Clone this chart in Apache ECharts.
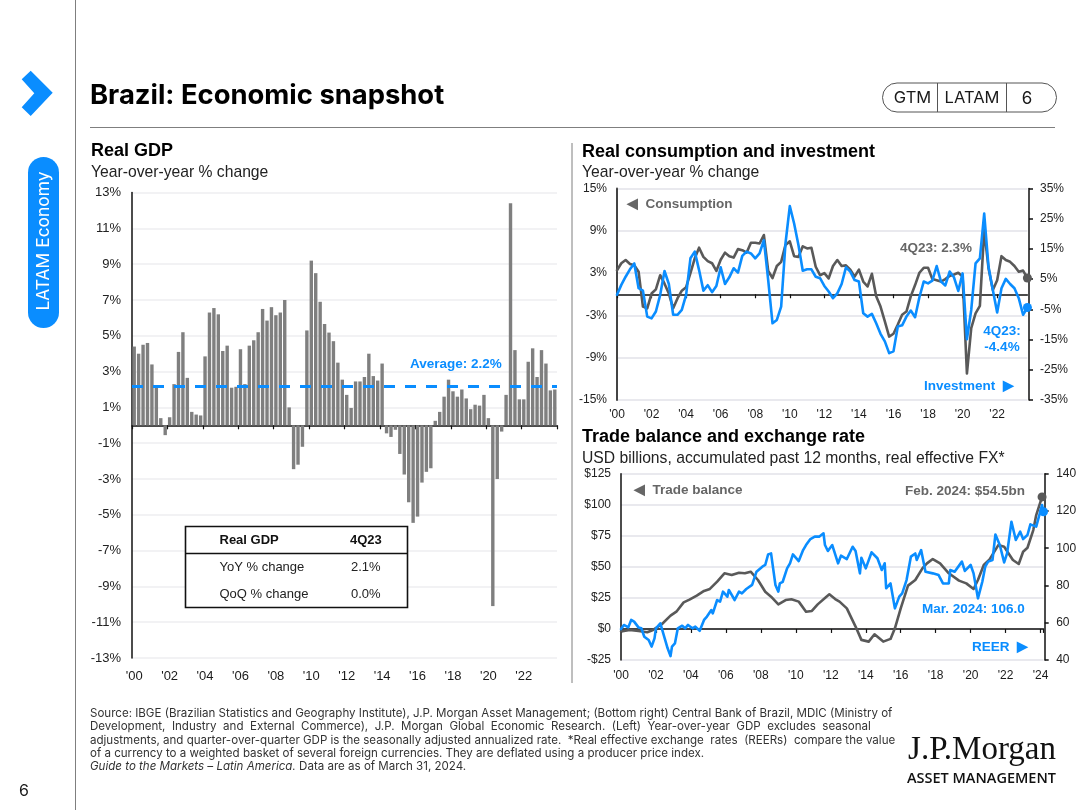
<!DOCTYPE html>
<html><head><meta charset="utf-8">
<style>html,body{margin:0;padding:0;background:#fff}#c{width:1080px;height:810px}</style>
<script src="https://cdn.jsdelivr.net/npm/echarts@6/dist/echarts.min.js"></script>
</head><body><div id="c"></div>
<script>
// ---- Data ----
const gdpYoY = [4.4,4.0,4.5,4.6,3.4,2.2,0.4,-0.55,0.45,2.3,4.1,5.2,2.65,0.75,0.6,0.55,3.85,6.3,6.55,6.2,4.15,4.45,2.1,2.15,4.25,2.3,4.45,4.75,5.2,6.5,5.85,6.6,6.15,6.3,7.0,1.0,-2.45,-2.2,-1.2,5.3,9.2,8.5,6.9,5.66,5.18,4.7,3.5,2.55,1.7,0.97,2.45,2.45,2.7,4.0,2.75,2.5,3.45,-0.45,-0.65,-0.25,-1.6,-2.75,-4.3,-5.45,-5.1,-3.2,-2.6,-2.4,0.25,0.75,1.6,2.55,1.9,1.6,2.0,1.5,0.9,1.15,1.1,1.7,0.4,-10.1,-3.0,-0.35,1.7,12.4,4.2,1.45,1.45,3.55,4.3,2.7,4.2,3.45,1.95,2.0];
const gdpAverage = 2.2;
const consumption = [3.4,4.4,4.85,4.3,4.1,3.2,-1.75,-2.0,0.1,0.7,2.7,1.5,0.1,-2.0,-0.6,0.5,1.0,3.0,5.1,6.6,5.3,4.7,4.4,3.3,4.9,5.9,5.4,5.2,6.4,6.25,5.9,7.3,7.3,7.2,8.4,3.3,2.3,4.0,4.6,7.0,7.5,5.4,5.3,6.8,6.5,6.6,3.9,2.7,3.0,2.25,4.0,4.85,4.0,4.1,3.5,2.5,3.5,1.8,1.1,2.9,-0.3,-1.75,-3.85,-6.0,-5.6,-4.3,-2.9,-2.45,-0.3,1.3,3.05,3.75,3.75,2.15,2.0,1.8,2.15,2.6,2.8,3.05,2.5,-11.25,-4.8,-2.7,-1.65,9.1,3.7,0.6,2.0,5.4,4.85,4.6,4.0,3.2,3.35,2.3];
const investment = [-0.2,3.1,5.8,8.25,10.2,2.0,1.2,-7.4,-8.0,-5.7,-0.2,7.7,3.4,-6.8,-6.8,-5.2,-0.2,11.9,14.1,8.0,1.2,3.0,0.7,2.75,8.9,3.4,5.6,8.6,7.15,12.7,14.1,13.5,11.9,13.5,17.9,4.7,-9.6,-8.5,-4.1,16.8,29.2,23.4,16.3,7.8,8.25,8.25,5.8,5.3,2.75,0.9,-1.3,0.3,3.4,8.9,7.5,4.7,4.2,-6.3,-7.4,-6.5,-9.6,-13.1,-15.6,-19.5,-18.9,-10.7,-10.3,-7.4,-5.4,-7.6,-1.0,4.2,3.6,4.5,9.35,4.2,2.9,7.5,5.6,1.1,6.9,-14.9,-5.2,10.2,11.9,26.7,9.1,1.4,-6.05,2.0,5.1,3.4,2.0,-1.3,-6.8,-4.4];
// months since Jan 2000 at which each line was read
const tradeMonths = [0,6,12,18,22,28,34,38,43,47,52,57,61,66,71,76,81,85,89,94,99,103,108,113,117,122,127,131,135,141,143,147,150,155,161,165,170,174,180,185,188,192,197,202,207,210,214,219,225,232,237,242,245,249,253,259,263,269,273,276,279,283,285,289];
const tradeBalance = [-2.1,-0.8,-1.6,-2.7,-0.8,3.8,10.7,13.9,21.4,23.6,26.8,30.6,32.2,38.1,44.8,43.4,45.3,44.8,46.1,39.4,30.0,26.0,19.8,23.3,23.9,22.0,13.9,14.5,19.8,26.0,27.9,24.1,22.0,16.6,1.9,-8.8,-10.2,-4.3,-10.2,-8.0,0.5,16.6,34.9,39.4,49.0,52.8,56.3,52.8,44.8,38.9,36.7,32.2,39.4,51.5,56.0,67.5,66.2,55.5,52.3,62.2,65.4,79.6,91.7,106.3];
const reerMonths = [0,2,5,7,9,12,14,16,19,21,23,24,27,30,32,34,35,37,38,39,42,44,46,49,51,54,57,59,62,63,66,68,70,73,74,78,81,83,86,90,93,97,99,101,103,106,108,109,111,114,116,118,119,122,125,127,130,133,136,139,140,142,145,149,151,155,159,161,164,165,168,172,176,179,181,182,185,188,191,193,196,199,202,203,206,209,214,218,221,225,226,229,234,236,240,242,245,248,250,252,255,257,260,263,265,268,271,274,276,279,281,285,289,290];
const reer = [56.6,58.8,57.5,61.5,60.6,57.5,57.0,52.5,50.7,47.2,51.6,57.0,59.7,51.6,46.3,42.1,47.2,48.9,49.8,57.0,58.4,57.0,58.8,57.0,57.9,55.7,61.5,63.3,66.8,65.0,72.2,71.3,76.7,74.0,77.6,72.2,76.7,75.8,78.1,80.3,87.4,90.1,91.0,96.7,97.2,80.3,76.7,81.1,82.0,89.2,91.9,96.7,96.0,93.1,99.0,101.7,104.9,106.2,106.2,108.0,101.7,98.5,101.7,91.9,96.0,94.2,100.8,98.5,86.5,94.9,89.2,97.8,94.6,88.3,91.9,78.5,81.1,67.7,74.0,75.8,82.9,95.5,97.2,93.7,99.0,87.4,86.5,85.6,81.1,81.1,88.3,87.4,92.8,87.8,91.0,86.5,73.1,82.0,90.1,92.8,93.7,107.4,101.7,92.4,97.2,114.2,104.4,108.9,104.9,107.1,112.8,111.6,123.2,119.6];
const quarters = [];
for (let y = 2000; y <= 2023; y++) for (let q = 1; q <= 4; q++) quarters.push(y + 'Q' + q);
const gdpTicks = [-13,-11,-9,-7,-5,-3,-1,1,3,5,7,9,11,13];
const consTicks = [-15,-9,-3,3,9,15];
const invTicks = [-35,-25,-15,-5,5,15,25,35];
const footnote = [
 'Source: IBGE (Brazilian Statistics and Geography Institute), J.P. Morgan Asset Management; (Bottom right) Central Bank of Brazil, MDIC (Ministry of',
 'Development,  Industry  and  External  Commerce),  J.P.  Morgan  Global  Economic  Research.  (Left)  Year-over-year  GDP  excludes  seasonal',
 'adjustments, and quarter-over-quarter GDP is the seasonally adjusted annualized rate.  *Real effective exchange  rates  (REERs)  compare the value',
 'of a currency to a weighted basket of several foreign currencies. They are deflated using a producer price index.'];

// ---- Styles ----
const BLUE = '#0A8DFF', GREY = '#595959', BAR = '#7F7F7F', SANS = '"Liberation Sans", Arial, sans-serif';
const yearLabel = s => "'" + s.slice(2, 4);
const T = (x, y, text, o = {}) => ({ type: 'text', x, y, silent: true, z: 20, rotation: o.rot || 0,
  style: { text, fill: o.c || '#1a1a1a', font: (o.w || 'normal') + ' ' + (o.s || 13) + 'px ' + (o.f || SANS),
           textAlign: o.a || 'left', textVerticalAlign: 'middle', rich: o.rich } });
const R = (x, y, w, h, o = {}) => ({ type: 'rect', silent: true, z: o.z || 10, shape: { x, y, width: w, height: h, r: o.r || 0 },
  style: { fill: o.fill || 'none', stroke: o.stroke || null, lineWidth: o.lw || 1 } });
const L = (x1, y1, x2, y2, c = '#7f7f7f', lw = 1) => ({ type: 'line', silent: true, z: 10, shape: { x1, y1, x2, y2 }, style: { stroke: c, lineWidth: lw } });

const valueY = (gridIndex, min, max, o = {}) => ({
  type: 'value', gridIndex, min, max, position: o.pos || 'left', offset: o.offset || 0,
  interval: o.interval, 
  axisLine: { show: true, onZero: false, lineStyle: { color: o.lineColor || '#111', width: o.lw || 1.5 } },
  axisTick: o.custom ? { show: !!o.tick, customValues: o.custom, length: 4, lineStyle: { color: '#111', width: 1.5 } } : { show: !!o.tick, length: 4, lineStyle: { color: '#111', width: 1.5 } },
  splitLine: { show: !!o.grid, lineStyle: { color: o.gridColor || '#E2E2E8', width: 1.5 } },
  axisLabel: { show: true, color: '#222', fontFamily: SANS, fontSize: o.fs || 12, margin: o.margin || 9, customValues: o.custom, formatter: o.fmt, showMinLabel: true, showMaxLabel: true }
});
const catX = (gridIndex, data, labels, o = {}) => ({
  type: 'category', gridIndex, data, boundaryGap: o.boundary, position: 'bottom',
  axisLine: { show: !labels, onZero: !labels, lineStyle: { color: '#111', width: 1.5 } },
  axisTick: { show: !labels, interval: 7, length: 4, alignWithLabel: false, lineStyle: { color: '#111', width: 1.2 } },
  axisLabel: { show: !!labels, interval: 7, color: '#1a1a1a', fontFamily: SANS, fontSize: o.fs || 12, margin: o.margin || 10, formatter: yearLabel },
  splitLine: { show: false }
});
const monthX = (gridIndex, labels) => ({
  type: 'value', gridIndex, min: 0, max: 290, interval: 24, position: 'bottom',
  axisLine: { show: !labels, onZero: !labels, lineStyle: { color: '#111', width: 1.5 } },
  axisTick: { show: !labels, length: 4, lineStyle: { color: '#111', width: 1.2 } },
  axisLabel: { show: !!labels, color: '#1a1a1a', fontFamily: SANS, fontSize: 12, margin: 10, formatter: v => v % 24 ? '' : "'" + String(2000 + v / 12).slice(2) },
  splitLine: { show: false }
});
const lineS = (name, data, color, xAxisIndex, yAxisIndex, z, last) => ({
  name, type: 'line', data, xAxisIndex, yAxisIndex, z, showSymbol: false, silent: true, animation: false,
  lineStyle: { color, width: 2.6, cap: 'round', join: 'round' }, itemStyle: { color },
  markPoint: { silent: true, animation: false, symbol: 'circle', symbolSize: 9, itemStyle: { color }, label: { show: false }, data: [{ coord: last }] }
});
const zip = (a, b) => a.map((m, i) => [m, b[i]]);

const chart = echarts.init(document.getElementById('c'), null, { renderer: 'canvas' });
chart.setOption({
  animation: false,
  backgroundColor: '#fff',
  grid: [
    { left: 132, top: 192.6, width: 425, height: 465.4 },
    { left: 617, top: 188.5, width: 410.4, height: 211.5 },
    { left: 621, top: 473.7, width: 422.5, height: 186.3 }
  ],
  xAxis: [
    catX(0, quarters, false, { boundary: true }),
    catX(0, quarters, true, { boundary: true, fs: 13, margin: 12 }),
    catX(1, quarters, false, { boundary: false }),
    catX(1, quarters, true, { boundary: false, margin: 9 }),
    monthX(2, false),
    monthX(2, true)
  ],
  yAxis: [
    valueY(0, -13, 13, { custom: gdpTicks, grid: true, gridColor: '#EEEEF0', fs: 13, margin: 11, fmt: v => v + '%' }),
    valueY(1, -15, 15, { custom: consTicks, grid: true, lineColor: '#444', lw: 2, fmt: v => v + '%', margin: 10 }),
    valueY(1, -35, 35, { custom: invTicks, pos: 'right', offset: 1.6, tick: true, fmt: v => v + '%', margin: 11 }),
    valueY(2, -25, 125, { interval: 25, grid: true, fmt: v => (v < 0 ? '-$' + (-v) : '$' + v), margin: 10 }),
    valueY(2, 40, 140, { interval: 20, pos: 'right', offset: 1.2, tick: true, margin: 11.5, fmt: v => '' + v })
  ],
  series: [
    { name: 'Real GDP', type: 'bar', data: gdpYoY, xAxisIndex: 0, yAxisIndex: 0, barWidth: 3.4, silent: true, animation: false,
      itemStyle: { color: BAR },
      markLine: { silent: true, animation: false, symbol: 'none', label: { show: false },
        lineStyle: { color: BLUE, type: [11, 10], width: 3 }, data: [{ yAxis: gdpAverage }] } },
    lineS('Consumption', consumption, GREY, 2, 1, 3, [95, consumption[95]]),
    lineS('Investment', investment, BLUE, 2, 2, 4, [95, investment[95]]),
    lineS('Trade balance', zip(tradeMonths, tradeBalance), GREY, 4, 3, 3, [289, tradeBalance[tradeBalance.length - 1]]),
    lineS('REER', zip(reerMonths, reer), BLUE, 4, 4, 4, [290, reer[reer.length - 1]])
  ],
  graphic: { elements: [
    // Sidebar
    L(75.5, 0, 75.5, 810, '#7f7f7f', 1),
    { type: 'polygon', silent: true, z: 10, shape: { points: [[30.7,70.7],[52.7,92.8],[30.7,116],[21.7,107.3],[34.3,93.3],[21.7,79.3]] }, style: { fill: BLUE } },
    R(28, 157, 31, 171, { fill: BLUE, r: 15.5 }),
    T(43.5, 241, 'LATAM Economy', { rot: Math.PI / 2, a: 'center', c: '#fff', s: 17.4, f: 'Inter, sans-serif' }),
    T(24, 791, '6', { a: 'center', s: 16, f: 'Inter, sans-serif' }),
    // Header
    T(90, 95.5, 'Brazil: Economic snapshot', { s: 27.4, w: 'bold', c: '#000', f: 'Inter, sans-serif' }),
    L(90, 127.5, 1055, 127.5, '#7f7f7f', 1.2),
    R(882.5, 83, 174, 29, { stroke: '#555', r: 14.5 }),
    L(937.5, 83, 937.5, 112, '#555'), L(1006.5, 83, 1006.5, 112, '#555'),
    T(912.5, 98.5, 'GTM', { a: 'center', s: 16.5, f: 'Inter, sans-serif' }),
    T(972, 98.5, 'LATAM', { a: 'center', s: 16.5, f: 'Inter, sans-serif' }),
    T(1027, 98.5, '6', { a: 'center', s: 17, f: 'Inter, sans-serif' }),
    // Panel headings
    L(572, 143, 572, 683, '#7f7f7f', 1),
    T(91, 151.5, 'Real GDP', { s: 18, w: 'bold', c: '#000' }),
    T(91, 172.5, 'Year-over-year % change', { s: 15.7, c: '#222' }),
    T(582, 152.5, 'Real consumption and investment', { s: 18, w: 'bold', c: '#000' }),
    T(582, 172.5, 'Year-over-year % change', { s: 15.7, c: '#222' }),
    T(582, 437.5, 'Trade balance and exchange rate', { s: 18, w: 'bold', c: '#000' }),
    T(582, 458.5, 'USD billions, accumulated past 12 months, real effective FX*', { s: 15.7, c: '#222' }),
    // Annotations
    T(410, 364.5, 'Average: 2.2%', { s: 13.5, w: 'bold', c: BLUE }),
    T(627, 204, '◀  Consumption', { s: 13.5, w: 'bold', c: '#666' }),
    T(900, 248, '4Q23: 2.3%', { s: 13.5, w: 'bold', c: '#666' }),
    T(1002, 331, '4Q23:', { s: 13.5, w: 'bold', c: BLUE, a: 'center' }),
    T(1002, 347, '-4.4%', { s: 13.5, w: 'bold', c: BLUE, a: 'center' }),
    T(924, 386, 'Investment  ▶', { s: 13.5, w: 'bold', c: BLUE }),
    T(634, 490, '◀  Trade balance', { s: 13.5, w: 'bold', c: '#666' }),
    T(905, 491, 'Feb. 2024: $54.5bn', { s: 13.5, w: 'bold', c: '#666' }),
    T(922, 609, 'Mar. 2024: 106.0', { s: 13.5, w: 'bold', c: BLUE }),
    T(972, 647, 'REER  ▶', { s: 13.5, w: 'bold', c: BLUE }),
    // GDP table
    R(185.5, 526.5, 222, 81, { fill: '#fff', stroke: '#111', lw: 1.6 }),
    L(185.5, 553.5, 407.5, 553.5, '#111', 1.4),
    T(219.5, 540, 'Real GDP', { w: 'bold', s: 13, c: '#111' }),
    T(350, 540, '4Q23', { w: 'bold', s: 13, c: '#111' }),
    T(219.5, 567, 'YoY % change', { s: 13, c: '#222' }),
    T(351, 567, '2.1%', { s: 13, c: '#222' }),
    T(219.5, 594, 'QoQ % change', { s: 13, c: '#222' }),
    T(351, 594, '0.0%', { s: 13, c: '#222' }),
    // Footnote
    ...footnote.map((t, i) => T(90, 713.5 + i * 13.4, t, { s: 11.55, c: '#333', f: 'Inter, sans-serif' })),
    { type: 'text', x: 90, y: 767, silent: true, z: 20, style: { text: '{i|Guide to the Markets – Latin America.} {n|Data are as of March 31, 2024.}',
      textVerticalAlign: 'middle', rich: { i: { font: 'italic 11.55px Inter, sans-serif', fill: '#333' }, n: { font: '11.55px Inter, sans-serif', fill: '#333' } } } },
    // Logo
    T(1056, 750, 'J.P.Morgan', { a: 'right', s: 33, f: '"Liberation Serif", serif', c: '#111' }),
    T(1056, 779, 'ASSET MANAGEMENT', { a: 'right', s: 14.5, w: '600', f: '"Open Sans", sans-serif', c: '#111' })
  ] }
});
</script></body></html>
